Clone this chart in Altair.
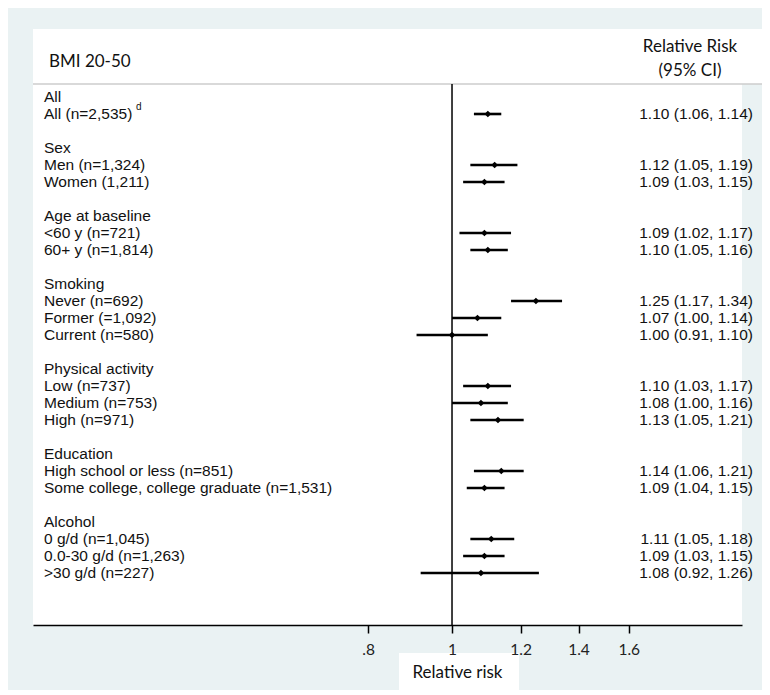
import altair as alt
import pandas as pd

# ---------------- data ----------------
group_names = ["All", "Sex", "Age at baseline", "Smoking", "Physical activity", "Education", "Alcohol"]
group_rows = [0, 3, 7, 11, 16, 21, 25]

sub_labels = [
    "All (n=2,535)",
    "Men (n=1,324)", "Women (1,211)",
    "<60 y (n=721)", "60+ y (n=1,814)",
    "Never (n=692)", "Former (=1,092)", "Current (n=580)",
    "Low (n=737)", "Medium (n=753)", "High (n=971)",
    "High school or less (n=851)", "Some college, college graduate (n=1,531)",
    "0 g/d (n=1,045)", "0.0-30 g/d (n=1,263)", ">30 g/d (n=227)",
]
sub_rows = [1, 4, 5, 8, 9, 12, 13, 14, 17, 18, 19, 22, 23, 26, 27, 28]
rr = [1.10, 1.12, 1.09, 1.09, 1.10, 1.25, 1.07, 1.00, 1.10, 1.08, 1.13, 1.14, 1.09, 1.11, 1.09, 1.08]
lo = [1.06, 1.05, 1.03, 1.02, 1.05, 1.17, 1.00, 0.91, 1.03, 1.00, 1.05, 1.06, 1.04, 1.05, 1.03, 0.92]
hi = [1.14, 1.19, 1.15, 1.17, 1.16, 1.34, 1.14, 1.10, 1.17, 1.16, 1.21, 1.21, 1.15, 1.18, 1.15, 1.26]

tick_values = [0.8, 1.0, 1.2, 1.4, 1.6]
tick_labels = [".8", "1", "1.2", "1.4", "1.6"]
ref_value = 1.0

header_left = "BMI 20-50"
header_right = ["Relative Risk", "(95% CI)"]
axis_title = "Relative risk"
footnote_mark = "d"

# ---------------- tables ----------------
est = pd.DataFrame({
    "row": sub_rows, "label": sub_labels, "rr": rr, "lo": lo, "hi": hi,
})
est["txt"] = [f"{a:.2f} ({b:.2f}, {c:.2f})" for a, b, c in zip(rr, lo, hi)]
grp = pd.DataFrame({"row": group_rows, "label": group_names})
one = pd.DataFrame({"k": [0]})

label_expr = "''"
for v, l in reversed(list(zip(tick_values, tick_labels))):
    label_expr = f"datum.value == {v} ? '{l}' : ({label_expr})"

x_scale = alt.Scale(type="log", domain=[0.3281, 2.1625], nice=False)
y_scale = alt.Scale(domain=[-4, 31.0588], reverse=True, nice=False, zero=False)

x_axis = alt.Axis(
    values=tick_values, labelExpr=label_expr, title=axis_title, grid=False,
    domainColor="black", domainWidth=1.5, tickColor="black", tickWidth=1.5, tickSize=8,
    labelFont="Lato", labelFontSize=15.5, labelColor="#222222", labelPadding=9,
    labelOverlap=False, labelFlush=False,
    titleFont="Lato", titleFontSize=17, titleFontWeight="normal", titleColor="#111111",
    titleBaseline="top", titleY=39, titleX=424, titleAlign="center", titleAnchor="start",
    zindex=1,
)

TXT_FONT = "Liberation Sans"
TXT_SIZE = 15.5

# decorative: header box extension and separator
head_ext = alt.Chart(one).mark_rect(color="white").encode(
    x=alt.value(709), x2=alt.value(730), y=alt.value(0), y2=alt.value(55))
sep = alt.Chart(one).mark_rule(color="#cccccc", strokeWidth=1.5).encode(
    x=alt.value(0), x2=alt.value(730), y=alt.value(55))
title_box = alt.Chart(one).mark_rect(color="white").encode(
    x=alt.value(366), x2=alt.value(486), y=alt.value(624), y2=alt.value(662))

ref = alt.Chart(one).mark_rule(color="black", strokeWidth=1.5).encode(
    x=alt.X(datum=ref_value, type="quantitative", scale=x_scale, axis=x_axis),
    y=alt.value(55), y2=alt.value(596))

ci = alt.Chart(est).mark_rule(color="black", strokeWidth=2.6).encode(
    x=alt.X("lo:Q", scale=x_scale, axis=x_axis),
    x2="hi:Q",
    y=alt.Y("row:Q", scale=y_scale, axis=None))

pts = alt.Chart(est).mark_point(shape="diamond", filled=True, color="black", size=45, opacity=1).encode(
    x=alt.X("rr:Q", scale=x_scale, axis=x_axis),
    y=alt.Y("row:Q", scale=y_scale, axis=None))

sub_txt = alt.Chart(est).mark_text(align="left", baseline="middle", font=TXT_FONT,
                                   fontSize=TXT_SIZE, color="#111111").encode(
    x=alt.value(11), y=alt.Y("row:Q", scale=y_scale, axis=None), text="label:N")

grp_txt = alt.Chart(grp).mark_text(align="left", baseline="middle", font=TXT_FONT,
                                   fontSize=TXT_SIZE, color="#111111").encode(
    x=alt.value(11), y=alt.Y("row:Q", scale=y_scale, axis=None), text="label:N")

foot = alt.Chart(est.iloc[[0]]).mark_text(align="left", baseline="middle", font=TXT_FONT,
                                          fontSize=10, color="#111111", dy=-7).encode(
    x=alt.value(103), y=alt.Y("row:Q", scale=y_scale, axis=None), text=alt.value(footnote_mark))

rr_txt = alt.Chart(est).mark_text(align="right", baseline="middle", font=TXT_FONT,
                                  fontSize=TXT_SIZE, color="#111111").encode(
    x=alt.value(720), y=alt.Y("row:Q", scale=y_scale, axis=None), text="txt:N")

hdr_left = alt.Chart(one).mark_text(align="left", baseline="middle", font="Lato",
                                    fontSize=17, color="#111111", text=header_left).encode(
    x=alt.value(16), y=alt.value(33))
hdr_r1 = alt.Chart(one).mark_text(align="center", baseline="middle", font="Lato",
                                  fontSize=17, color="#111111", text=header_right[0]).encode(
    x=alt.value(657), y=alt.value(18))
hdr_r2 = alt.Chart(one).mark_text(align="center", baseline="middle", font="Lato",
                                  fontSize=17, color="#111111", text=header_right[1]).encode(
    x=alt.value(657), y=alt.value(42))

chart = alt.layer(
    head_ext, sep, title_box, ref, ci, pts, sub_txt, grp_txt, foot, rr_txt,
    hdr_left, hdr_r1, hdr_r2,
).properties(
    width=709, height=596,
    padding={"left": 25, "top": 21, "right": 20, "bottom": 65},
    autosize=alt.AutoSizeParams(type="none"),
    background="#EAF2F3",
).configure_view(fill="white", stroke=None)

chart.save("out.html", embed_options={"renderer": "svg", "actions": False})
